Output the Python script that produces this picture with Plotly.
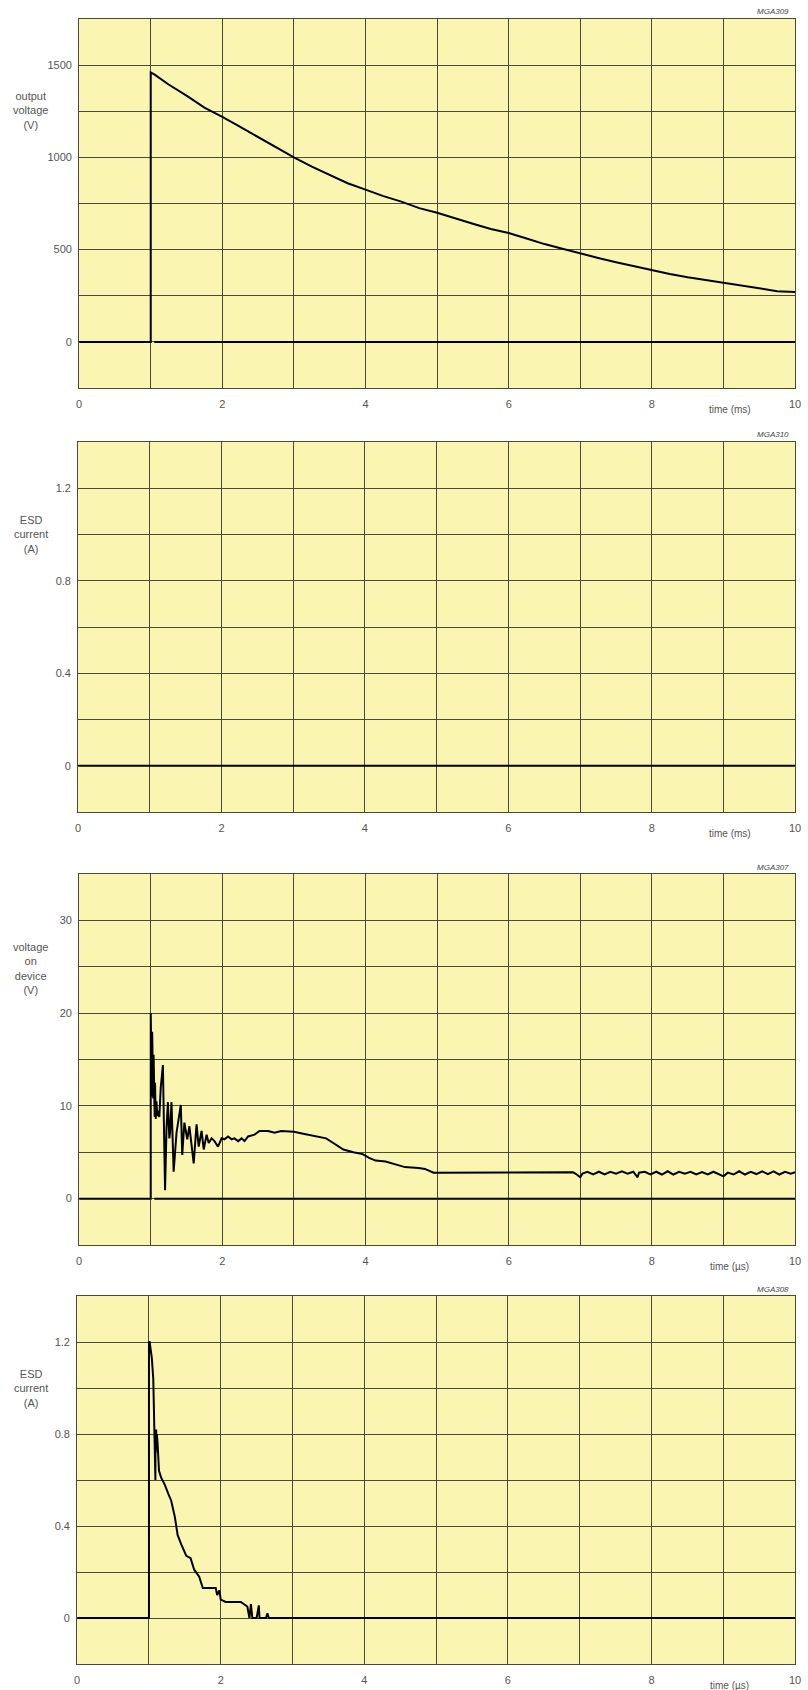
import plotly.graph_objects as go

W, H = 808, 1690

# ---------------- data ----------------
# Panel 1: output voltage (V) vs time (ms)
p1_t = [0, 1.0, 1.0, 1.05, 1.25, 1.5, 1.75, 2.0, 2.25, 2.5, 2.75, 3.0, 3.25, 3.5, 3.75, 4.0, 4.25, 4.5, 4.75,
        5.0, 5.25, 5.5, 5.75, 6.0, 6.25, 6.5, 6.75, 7.0, 7.25, 7.5, 7.75, 8.0, 8.25, 8.5, 8.75, 9.0,
        9.25, 9.5, 9.75, 10.0]
p1_v = [0, 0, 1460, 1450, 1395, 1335, 1270, 1220, 1165, 1110, 1055, 1000, 950, 905, 860, 825, 790, 760, 725,
        700, 668, 640, 612, 590, 560, 530, 505, 478, 455, 432, 410, 390, 368, 350, 335, 320,
        305, 292, 275, 270]
p1_base_t = [1.05, 10.0]
p1_base_v = [0, 0]

# Panel 2: ESD current (A) vs time (ms)
p2_t = [0, 10.0]
p2_i = [0, 0]

# Panel 3: voltage on device (V) vs time (us)
p3_t = [0, 1.0, 1.0, 1.005, 1.01, 1.015, 1.02, 1.025, 1.03, 1.035, 1.04, 1.045, 1.05, 1.055, 1.06, 1.07,
        1.08, 1.09, 1.10, 1.12, 1.14, 1.17, 1.20, 1.22, 1.24, 1.26, 1.27, 1.29, 1.32,
        1.36, 1.42, 1.44, 1.47, 1.51, 1.54, 1.57, 1.60, 1.64, 1.67, 1.71, 1.74, 1.78, 1.81, 1.85, 1.89,
        1.94, 1.99, 2.03, 2.08, 2.13, 2.17, 2.22, 2.27, 2.31, 2.36, 2.45, 2.52, 2.64, 2.73, 2.82, 3.0,
        3.13, 3.27, 3.45, 3.55, 3.69, 3.83, 3.96, 4.05, 4.14, 4.28, 4.42, 4.55, 4.74, 4.83, 4.95, 5.5,
        6.0, 6.5, 6.9, 6.95, 7.0, 7.03, 7.1, 7.18, 7.26, 7.34, 7.42, 7.5, 7.58, 7.66, 7.74, 7.8, 7.82,
        7.9, 7.98, 8.06, 8.14, 8.22, 8.3, 8.38, 8.46, 8.54, 8.62, 8.7, 8.78, 8.86, 8.94, 9.0, 9.06,
        9.14, 9.22, 9.3, 9.38, 9.46, 9.54, 9.62, 9.7, 9.78, 9.86, 9.94, 10.0]
p3_v = [0, 0, 20.0, 12.5, 19.5, 11.0, 18.0, 11.2, 16.5, 10.8, 15.5, 10.7, 15.0, 8.8, 12.5, 8.6,
        10.5, 8.9, 9.5, 8.8, 12.0, 14.4, 0.9, 7.5, 10.4, 6.5, 7.1, 10.4, 2.9,
        7.1, 10.1, 4.7, 8.2, 6.4, 7.8, 6.0, 3.8, 8.0, 5.6, 7.3, 5.3, 6.9, 6.0, 6.5, 6.2,
        5.6, 6.5, 6.4, 6.7, 6.4, 6.5, 6.2, 6.5, 6.2, 6.7, 6.9, 7.3, 7.3, 7.1, 7.3, 7.2,
        7.0, 6.8, 6.5, 6.0, 5.3, 5.0, 4.8, 4.4, 4.1, 4.0, 3.7, 3.4, 3.3, 3.2, 2.8, 2.8,
        2.8, 2.8, 2.84, 2.6, 2.3, 2.7, 2.9, 2.6, 2.9, 2.6, 2.9, 2.7, 2.95, 2.7, 2.9, 2.3, 2.8,
        2.9, 2.6, 2.9, 2.6, 2.95, 2.6, 2.9, 2.7, 2.9, 2.6, 2.85, 2.6, 2.9, 2.6, 2.4, 2.8,
        2.6, 2.95, 2.6, 2.9, 2.65, 2.95, 2.65, 2.95, 2.6, 2.9, 2.7, 2.85]
p3_base_t = [1.05, 10.0]
p3_base_v = [0, 0]

# Panel 4: ESD current (A) vs time (us)
p4_t = [0, 1.0, 1.0, 1.01, 1.04, 1.06, 1.075, 1.08, 1.085, 1.09, 1.09, 1.095, 1.10, 1.105, 1.11, 1.12,
        1.14, 1.17, 1.22, 1.27, 1.31, 1.36,
        1.40, 1.45, 1.52, 1.58, 1.63, 1.70, 1.75, 1.82, 1.93, 1.95, 1.98, 2.0, 2.07, 2.28, 2.37,
        2.40, 2.42, 2.44, 2.50, 2.53, 2.54, 2.63, 2.65, 2.67, 3.1, 10.0]
p4_i = [0, 0, 1.2, 1.2, 1.13, 1.04, 0.82, 0.74, 0.81, 0.60, 0.80, 0.72, 0.82, 0.73, 0.80, 0.76,
        0.64, 0.61, 0.58, 0.54, 0.51, 0.44,
        0.36, 0.32, 0.27, 0.26, 0.21, 0.18, 0.13, 0.13, 0.13, 0.10, 0.12, 0.08, 0.07, 0.07, 0.05,
        0.0, 0.06, 0.0, 0.0, 0.055, 0.0, 0.0, 0.02, 0.0, 0.0, 0.0]

x_ticks = [0, 1, 2, 3, 4, 5, 6, 7, 8, 9, 10]
x_labels = ["0", "", "2", "", "4", "", "6", "", "8", "", "10"]

p1_yticks = [-250, 0, 250, 500, 750, 1000, 1250, 1500, 1750]
p1_ylabels = ["", "0", "", "500", "", "1000", "", "1500", ""]
cur_yticks = [-0.2, 0, 0.2, 0.4, 0.6, 0.8, 1.0, 1.2, 1.4]
cur_ylabels = ["", "0", "", "0.4", "", "0.8", "", "1.2", ""]
p3_yticks = [-5, 0, 5, 10, 15, 20, 25, 30, 35]
p3_ylabels = ["", "0", "", "10", "", "20", "", "30", ""]

y_titles = ["output<br>voltage<br>(V)", "ESD<br>current<br>(A)", "voltage<br>on<br>device<br>(V)", "ESD<br>current<br>(A)"]
x_titles = ["time (ms)", "time (ms)", "time (\u00b5s)", "time (\u00b5s)"]
codes = ["MGA309", "MGA310", "MGA307", "MGA308"]

# ---------------- layout geometry (pixels) ----------------
panels = [
    dict(l=77, r=801, t=19, b=388, yr=[-250, 1750], yt=p1_yticks, yl=p1_ylabels, ytitle_y=111),
    dict(l=76, r=801, t=442, b=812, yr=[-0.2, 1.4], yt=cur_yticks, yl=cur_ylabels, ytitle_y=535),
    dict(l=77, r=801, t=874, b=1245, yr=[-5, 35], yt=p3_yticks, yl=p3_ylabels, ytitle_y=968),
    dict(l=75, r=801, t=1296, b=1664, yr=[-0.2, 1.4], yt=cur_yticks, yl=cur_ylabels, ytitle_y=1388),
]

BG = "#FAF6B2"
GRID = "#4a4a38"
TXT = "#555555"
FONT = "Liberation Sans, Arial, sans-serif"

fig = go.Figure()

series = [
    [(p1_t, p1_v), (p1_base_t, p1_base_v)],
    [(p2_t, p2_i)],
    [(p3_t, p3_v), (p3_base_t, p3_base_v)],
    [(p4_t, p4_i)],
]

annotations = []
layout_axes = {}
for k, p in enumerate(panels):
    n = "" if k == 0 else str(k + 1)
    xa, ya = "x" + n, "y" + n
    for (xs, ys) in series[k]:
        fig.add_trace(go.Scatter(x=xs, y=ys, xaxis=xa, yaxis=ya, mode="lines",
                                 line=dict(color="black", width=2), showlegend=False,
                                 hoverinfo="skip"))
    layout_axes["xaxis" + n] = dict(
        domain=[p["l"] / W, p["r"] / W], anchor=ya, range=[0, 10],
        tickmode="array", tickvals=x_ticks, ticktext=x_labels,
        showgrid=True, gridcolor=GRID, gridwidth=1, zeroline=False,
        showline=True, mirror=True, linecolor=GRID, linewidth=1,
        ticks="", tickfont=dict(family=FONT, size=11, color=TXT),
        ticklabelstandoff=6, fixedrange=True)
    layout_axes["yaxis" + n] = dict(
        domain=[1 - p["b"] / H, 1 - p["t"] / H], anchor=xa, range=p["yr"],
        tickmode="array", tickvals=p["yt"], ticktext=p["yl"],
        showgrid=True, gridcolor=GRID, gridwidth=1, zeroline=False,
        showline=True, mirror=True, linecolor=GRID, linewidth=1,
        ticks="", tickfont=dict(family=FONT, size=11, color=TXT),
        ticklabelstandoff=4, fixedrange=True)
    # y title
    annotations.append(dict(text=y_titles[k], x=28 / W, y=1 - p["ytitle_y"] / H,
                            xref="paper", yref="paper", showarrow=False,
                            xanchor="center", yanchor="middle", align="center",
                            font=dict(family=FONT, size=11, color=TXT)))
    # x title
    annotations.append(dict(text=x_titles[k], x=735 / W, y=1 - (p["b"] + 21) / H,
                            xref="paper", yref="paper", showarrow=False,
                            xanchor="center", yanchor="middle",
                            font=dict(family=FONT, size=10, color=TXT)))
    # figure code
    annotations.append(dict(text="<i>" + codes[k] + "</i>", x=797 / W, y=1 - (p["t"] - 7) / H,
                            xref="paper", yref="paper", showarrow=False,
                            xanchor="right", yanchor="middle",
                            font=dict(family=FONT, size=8, color="#444444")))

fig.update_layout(width=W, height=H, margin=dict(l=0, r=0, t=0, b=0),
                  paper_bgcolor="white", plot_bgcolor=BG,
                  annotations=annotations, **layout_axes)

fig.write_html("out.html")
